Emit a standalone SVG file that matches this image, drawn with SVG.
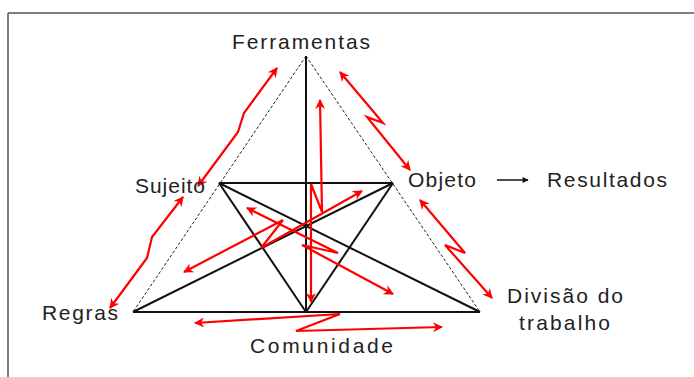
<svg xmlns="http://www.w3.org/2000/svg" width="694" height="377" viewBox="0 0 694 377">
<defs>
<marker id="rh" viewBox="0 0 10 10" refX="9" refY="5" markerWidth="11" markerHeight="10" markerUnits="userSpaceOnUse" orient="auto-start-reverse"><path d="M0,0 L10,5 L0,10 L3,5 z" fill="#f00"/></marker>
<marker id="bh" viewBox="0 0 10 10" refX="9" refY="5" markerWidth="7" markerHeight="6" markerUnits="userSpaceOnUse" orient="auto"><path d="M0,0 L10,5 L0,10 z" fill="#111"/></marker>
</defs>
<style>
.lbl{font-family:"Liberation Sans",Arial,sans-serif;font-size:21px;fill:#222}
.solid{stroke:#111;stroke-width:2;fill:none}
.dash{stroke:#222;stroke-width:1;stroke-dasharray:3 2;fill:none}
.red{stroke:#f00;stroke-width:2.2;fill:none;stroke-linejoin:miter;marker-start:url(#rh);marker-end:url(#rh)}
</style>
<rect x="0" y="0" width="694" height="377" fill="#fff"/>
<g id="frame" stroke="#555" stroke-width="1.5" fill="none">
<line x1="8" y1="13" x2="694" y2="13"/>
<line x1="8" y1="13" x2="8" y2="377"/>
</g>
<g id="connectors">
<line class="dash" x1="306" y1="56" x2="133" y2="312"/>
<line class="dash" x1="306" y1="56" x2="480" y2="312"/>
<line class="solid" x1="133" y1="312" x2="480" y2="312" stroke="#333"/>
<line class="solid" x1="219" y1="183" x2="393" y2="183"/>
<line class="solid" x1="306" y1="56" x2="306" y2="312"/>
<line class="solid" x1="219" y1="183" x2="306" y2="312"/>
<line class="solid" x1="393" y1="183" x2="306" y2="312"/>
<line class="solid" x1="219" y1="183" x2="480" y2="312"/>
<line class="solid" x1="393" y1="183" x2="133" y2="312"/>
<line x1="497" y1="180" x2="528" y2="180" stroke="#111" stroke-width="1.5" marker-end="url(#bh)"/>
<path class="red" d="M277,68 L244,113 L238,132 L198,186"/>
<path class="red" d="M183,197 L152,237 L147,258 L110,308"/>
<path class="red" d="M340,72 L383,123 L367,117 L410,170"/>
<path class="red" d="M420,200 L465,253 L445,245 L492,298"/>
<path class="red" d="M195,323 L340,314 L296,331 L442,327"/>
<path class="red" d="M320,100 L322,212 L311,184 L311,302"/>
<path class="red" d="M184,272 L283,220 L261,248 L362,191"/>
<path class="red" d="M247,208 L338,253 L302,245 L393,294"/>
</g>
<g id="ferramentas"><text class="lbl" x="232" y="49" textLength="138" lengthAdjust="spacing">Ferramentas</text></g>
<g id="sujeito"><text class="lbl" x="135" y="193" textLength="70" lengthAdjust="spacing">Sujeito</text></g>
<g id="objeto"><text class="lbl" x="408" y="187" textLength="68" lengthAdjust="spacing">Objeto</text></g>
<g id="resultados"><text class="lbl" x="547" y="187" textLength="120" lengthAdjust="spacing">Resultados</text></g>
<g id="regras"><text class="lbl" x="42" y="320" textLength="76" lengthAdjust="spacing">Regras</text></g>
<g id="divisao"><text class="lbl" x="507" y="303" textLength="116" lengthAdjust="spacing">Divisão do</text><text class="lbl" x="519" y="330" textLength="91" lengthAdjust="spacing">trabalho</text></g>
<g id="comunidade"><text class="lbl" x="250" y="353" textLength="143" lengthAdjust="spacing">Comunidade</text></g>
</svg>
